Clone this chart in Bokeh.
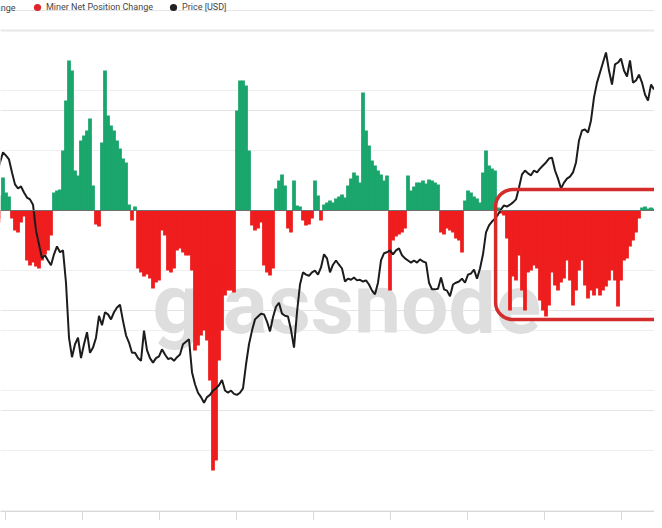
import numpy as np
from bokeh.plotting import figure
from bokeh.models import (ColumnDataSource, Range1d, LogScale, Span, BoxAnnotation, Label,
                          Legend, LegendItem, FixedTicker, SingleIntervalTicker, Grid,
                          CustomJSTickFormatter)
from bokeh.embed import file_html
from bokeh.resources import INLINE

# ---------------- data ----------------
# Miner net position change (BTC), one sample per step
miner_net_change = [
    -1200, -800, 1500, 3300, 1800, 1400, -800, -2000, -2200, -1200,
    -600, -5000, -5500, -5200, -5600, -5800, -5000, -4400, -4000, -2500,
    1800, 2000, 2100, 6000, 11000, 15000, 14000, 4000, 3500, 7000,
    7500, 8000, 9200, 2500, -1400, -1600, 6800, 14000, 9500, 8500,
    8000, 7000, 6200, 5200, 4800, 600, -1000, 400, -5800, -6200,
    -6600, -6400, -6800, -7800, -7200, -7000, -2000, -2500, -6000, -6200,
    -5800, -4000, -3800, -4200, -4500, -4500, -6000, -14000, -13500, -12500,
    -12000, -13000, -17000, -26000, -25000, -15000, -12000, -8500, -8000, -8000,
    -8200, 10000, 13000, 13000, 12500, 6000, -1500, -2000, -1800, -1200,
    -5500, -6200, -6500, -5800, 2200, 3000, 3600, 2500, -1800, -2200,
    3000, 500, 400, -1000, -1500, -1400, -800, 3000, 1500, -1000,
    600, 800, 1000, 800, 1200, 1400, 1600, 1300, 2500, 3200,
    3800, 3500, 2800, 11800, 8000, 6500, 5000, 4500, 4000, 3600,
    3000, 3500, -8000, -3000, -2600, -2400, -2200, -1800, 3500, 2000,
    2400, 2800, 2800, 3000, 2700, 3100, 3000, 2800, 2600, -2200,
    -2400, -1800, -2000, -2200, -2800, -3000, -4200, 1000, 2000, 1800,
    1400, 1200, 800, 3800, 6000, 4500, 4200, 4000, 300, -300,
    -500, -2800, -10000, -6600, -7000, -4500, -8000, -10000, -6200, -6000,
    -5500, -5800, -9000, -10000, -10600, -9500, -6200, -7500, -8000, -7200,
    -6800, -5000, -7000, -9500, -8000, -6000, -5000, -7500, -8800, -8000,
    -8500, -7800, -8500, -8000, -7600, -7000, -6000, -7000, -9600, -7000,
    -5000, -4800, -3600, -3000, -2200, -800, 300, 400, 200, 300,
    200,
]

# BTC price (USD), same samples
price_usd = [
    53300, 55500, 59300, 62700, 61600, 60300, 56100, 52500, 51300, 51900,
    50200, 48800, 48300, 46900, 40600, 37600, 34800, 35400, 34400, 33500,
    35600, 37200, 36000, 36400, 30400, 22400, 20100, 21600, 22400, 20000,
    21600, 23100, 20600, 21200, 22400, 25300, 24000, 25800, 25500, 24800,
    25800, 26500, 26900, 24600, 22700, 21800, 20600, 20600, 20000, 19700,
    23300, 20900, 20000, 19500, 20000, 20200, 21000, 20400, 19900, 20000,
    19700, 20100, 20400, 21600, 21900, 22200, 18500, 17300, 16500, 16100,
    15600, 16100, 16300, 16700, 16900, 17200, 17700, 16700, 16500, 16700,
    16400, 16300, 16500, 16900, 19300, 21600, 23300, 24800, 25200, 25600,
    25500, 24500, 23200, 25100, 26600, 27200, 25600, 25300, 25200, 23400,
    21200, 25800, 30100, 32200, 31800, 31600, 32200, 32500, 31800, 33100,
    35600, 34800, 32200, 33600, 34400, 33600, 32900, 30600, 31100, 30900,
    31300, 30800, 30900, 30600, 30800, 30100, 29100, 28500, 30400, 34400,
    35800, 36000, 36400, 35600, 36400, 36800, 35400, 34800, 34400, 34000,
    34400, 34000, 34600, 34200, 34000, 30400, 29300, 29300, 29400, 31300,
    29300, 29100, 28200, 30100, 30400, 30600, 31100, 30400, 31800, 32000,
    32700, 31100, 32900, 35600, 40200, 41800, 42700, 43400, 44400, 45700,
    46700, 46400, 46900, 47500, 48300, 51600, 55500, 56700, 55800, 55200,
    56700, 56100, 57300, 58300, 59300, 60600, 60900, 56700, 54200, 51300,
    53000, 54200, 54800, 56100, 59300, 67000, 70800, 71200, 70000, 74900,
    85100, 92400, 97700, 103300, 109200, 98800, 91400, 102200, 103300, 105600,
    98800, 95600, 104500, 92400, 93500, 96600, 92400, 86500, 83600, 91400,
    88900,
]

# sample positions of the (unlabelled, cropped) time-axis ticks
x_ticks = [3.7, 29.4, 55.1, 80.8, 106.5, 132.2, 157.9, 183.6, 209.3]

# ---------------- plotting ----------------
idx = np.arange(len(miner_net_change))
vals = np.array(miner_net_change, dtype=float)
pos_src = ColumnDataSource(dict(x=idx[vals > 0], top=vals[vals > 0]))
neg_src = ColumnDataSource(dict(x=idx[vals < 0], top=vals[vals < 0]))
price_src = ColumnDataSource(dict(x=idx, price=price_usd))

X_START, X_END = 2.1667, 220.1667
Y_BOTTOM, Y_TOP = -30100, 21000     # frame also hosts the legend strip
PLOT_TOP = 18000                    # separator line under the legend

p = figure(width=654, height=520, output_backend="svg", toolbar_location=None,
           x_range=Range1d(X_START, X_END), y_range=Range1d(Y_BOTTOM, Y_TOP),
           y_axis_location=None,
           min_border_left=0, min_border_right=0, min_border_top=0, min_border_bottom=9)
p.extra_y_ranges = {"price": Range1d(8530, 145800)}
p.extra_y_scales = {"price": LogScale()}
p.outline_line_color = None
p.background_fill_color = "white"
p.border_fill_color = "white"
p.xgrid.visible = False

p.add_layout(Grid(dimension=1, ticker=SingleIntervalTicker(interval=6000),
                  grid_line_color="#efefef", grid_line_width=1))

# x axis (labels are cropped off in the reference)
ax = p.xaxis[0]
ax.ticker = FixedTicker(ticks=x_ticks)
ax.formatter = CustomJSTickFormatter(code="return ''")
ax.major_label_text_font_size = "0px"
ax.major_label_standoff = 0
ax.axis_line_color = "#d9d9d9"
ax.major_tick_line_color = "#d9d9d9"
ax.major_tick_in = 0
ax.major_tick_out = 9
ax.minor_tick_line_color = None

# watermark
p.add_layout(Label(x=152, y=207, x_units="screen", y_units="screen", text="glassnode",
                   text_font="Roboto", text_font_style="bold", text_font_size="84px",
                   text_color="#dedede", text_baseline="alphabetic", level="underlay"))

# separator under the legend strip
p.add_layout(Span(location=PLOT_TOP, dimension="width", line_color="#e8e8e8", line_width=2))

p.vbar(x="x", top="top", bottom=0, width=1.25, source=pos_src,
       fill_color="#1aa56c", line_color=None)
p.vbar(x="x", top="top", bottom=0, width=1.25, source=neg_src,
       fill_color="#ee1c1c", line_color=None)
p.add_layout(Span(location=0, dimension="width", line_color="#707070", line_width=1))

p.line(x="x", y="price", source=price_src, y_range_name="price",
       line_color="#1c1c1c", line_width=2)

# highlight box
p.add_layout(BoxAnnotation(left=167.2, right=240, top=2100, bottom=-10900,
                           fill_alpha=0, line_color="#d42b2b", line_alpha=1.0,
                           line_width=3.5, border_radius=17))

# legend (marker-only proxy renderers, nothing plotted)
dot_red = p.scatter(x=[np.nan], y=[np.nan], size=7, marker="circle",
                    fill_color="#e0262b", line_color=None)
dot_black = p.scatter(x=[np.nan], y=[np.nan], size=7, marker="circle",
                      fill_color="#222222", line_color=None)
legend = Legend(items=[LegendItem(label="Miner Net Position Change", renderers=[dot_red], index=0),
                       LegendItem(label="Price [USD]", renderers=[dot_black], index=0)],
                location=(28, 495), orientation="horizontal",
                glyph_width=18, glyph_height=18, label_height=12, label_standoff=0,
                spacing=11, padding=0, margin=0,
                label_text_font="Roboto", label_text_font_size="9px",
                label_text_color="#454545", background_fill_alpha=0, border_line_alpha=0)
p.add_layout(legend)

p.add_layout(Label(x=15, y=504, x_units="screen", y_units="screen",
                   text="Miner Net Position Change", text_align="right", text_baseline="middle",
                   text_font="Roboto", text_font_size="9px", text_color="#454545"))

open("out.html", "w").write(file_html(p, INLINE))
